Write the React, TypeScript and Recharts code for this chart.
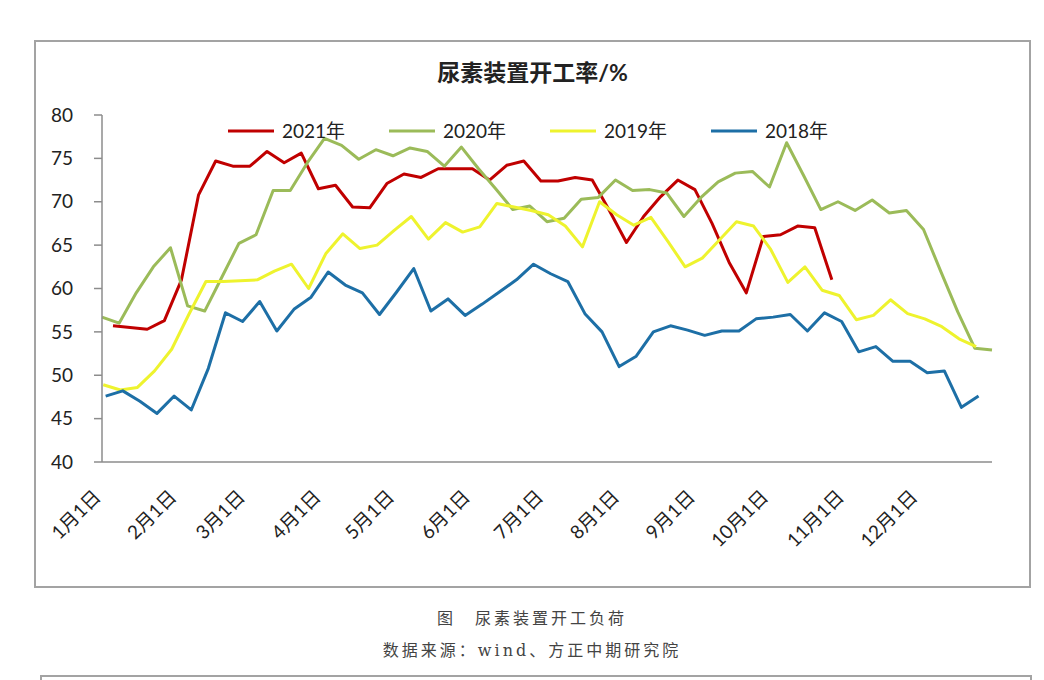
import { Line, LineChart, XAxis, YAxis } from "recharts"

// weekly readings, first reading's day-of-year per year
const startDay2021 = 4.5
const startDay2020 = 0
const startDay2019 = 0.5
const startDay2018 = 1.5

const values2021 = [
    55.7, 55.5, 55.3, 56.3, 61.0, 70.8, 74.7, 74.1, 74.1, 75.8,
    74.5, 75.6, 71.5, 71.9, 69.4, 69.3, 72.1, 73.2, 72.8, 73.8,
    73.8, 73.8, 72.5, 74.2, 74.7, 72.4, 72.4, 72.8, 72.5, 69.0,
    65.3, 68.3, 70.6, 72.5, 71.4, 67.5, 63.0, 59.5, 66.0, 66.2,
    67.2, 67.0, 61.0,
]

const values2020 = [
    56.7, 56.0, 59.5, 62.5, 64.7, 58.0, 57.4, 61.3, 65.2, 66.2,
    71.3, 71.3, 74.5, 77.3, 76.5, 74.9, 76.0, 75.3, 76.2, 75.8,
    74.1, 76.3, 73.8, 71.5, 69.1, 69.5, 67.7, 68.1, 70.3, 70.5,
    72.5, 71.3, 71.4, 71.0, 68.3, 70.5, 72.3, 73.3, 73.5, 71.7,
    76.8, 73.0, 69.1, 70.0, 69.0, 70.2, 68.7, 69.0, 66.8, 62.0,
    57.3, 53.1, 52.9,
]

const values2019 = [
    48.9, 48.3, 48.6, 50.5, 53.0, 57.0, 60.8, 60.8, 60.9, 61.0,
    62.0, 62.8, 60.0, 64.0, 66.3, 64.6, 65.0, 66.7, 68.3, 65.7,
    67.6, 66.5, 67.1, 69.8, 69.4, 69.0, 68.5, 67.2, 64.8, 70.0,
    68.5, 67.3, 68.2, 65.4, 62.5, 63.5, 65.6, 67.7, 67.2, 64.5,
    60.7, 62.5, 59.8, 59.2, 56.4, 56.9, 58.7, 57.1, 56.5, 55.6,
    54.2, 53.3,
]

const values2018 = [
    47.6, 48.2, 47.0, 45.6, 47.6, 46.0, 50.8, 57.2, 56.2, 58.5,
    55.1, 57.6, 59.0, 61.9, 60.4, 59.5, 57.0, 59.6, 62.3, 57.4,
    58.8, 56.9, 58.2, 59.6, 61.0, 62.8, 61.7, 60.8, 57.1, 55.0,
    51.0, 52.2, 55.0, 55.7, 55.2, 54.6, 55.1, 55.1, 56.5, 56.7,
    57.0, 55.1, 57.2, 56.2, 52.7, 53.3, 51.6, 51.6, 50.3, 50.5,
    46.3, 47.6,
]

const monthDays = [0, 31, 59, 90, 120, 151, 181, 212, 243, 273, 304, 334]
const monthLabels = ["1月1日", "2月1日", "3月1日", "4月1日", "5月1日", "6月1日", "7月1日", "8月1日", "9月1日", "10月1日", "11月1日", "12月1日"]
const yTicks = [40, 45, 50, 55, 60, 65, 70, 75, 80]

const seriesNames = ["2021年", "2020年", "2019年", "2018年"]
const seriesColors = ["#C00000", "#9BBB59", "#EEF32E", "#1D6FA6"]

const toPoints = (values: number[], start: number) =>
    values.map((value, i) => ({ day: start + i * 7, value }))

const series = [
    toPoints(values2021, startDay2021),
    toPoints(values2020, startDay2020),
    toPoints(values2019, startDay2019),
    toPoints(values2018, startDay2018),
]

const FONT = "Lato, 'Noto Sans CJK SC', sans-serif"
const CAPTION_FONT = "'DejaVu Serif', 'Noto Sans CJK SC', serif"

const MonthTick = (props: any) => {
    const { x, y, payload } = props
    const label = monthLabels[monthDays.indexOf(payload.value)]
    const ay = y + 36
    return (
        <text
            x={x}
            y={ay}
            transform={`rotate(-45 ${x} ${ay})`}
            textAnchor="end"
            fontSize={19}
            fontFamily={FONT}
            fill="#222"
        >
            {label}
        </text>
    )
}

// legend drawn outside the chart so it doesn't eat plot height
const LegendBox = () => (
    <div style={{ position: "absolute", left: 228, top: 119, display: "flex", fontFamily: FONT }}>
        {seriesNames.map((name, i) => (
            <div key={name} style={{ width: 161, display: "flex", alignItems: "center" }}>
                <svg width={46} height={6}>
                    <line x1={0} y1={3} x2={46} y2={3} stroke={seriesColors[i]} strokeWidth={3} />
                </svg>
                <span style={{ marginLeft: 8, fontSize: 19, color: "#222", lineHeight: "24px" }}>{name}</span>
            </div>
        ))}
    </div>
)

export default function App() {
    return (
        <div style={{ position: "absolute", left: 0, top: 0, width: 1044, height: 680, overflow: "hidden", background: "#fff" }}>
            <div style={{ position: "absolute", left: 34, top: 40, width: 993, height: 544, border: "2px solid #a3a3a3" }} />

            <div
                style={{
                    position: "absolute", left: 0, top: 58, width: 1065, textAlign: "center",
                    fontFamily: FONT, fontWeight: 700, fontSize: 23, lineHeight: "28px", color: "#222",
                }}
            >
                尿素装置开工率/%
            </div>

            <div style={{ position: "absolute", left: 0, top: 0 }}>
                <LineChart width={1044} height={600} margin={{ top: 115, right: 52, left: 0, bottom: 38 }}>
                    <XAxis
                        type="number"
                        dataKey="day"
                        domain={[0, 364]}
                        ticks={monthDays}
                        interval={0}
                        tick={<MonthTick />}
                        tickLine={false}
                        tickSize={0}
                        tickMargin={0}
                        height={100}
                        stroke="#8c8c8c"
                        strokeWidth={1.5}
                        allowDuplicatedCategory={false}
                    />
                    <YAxis
                        type="number"
                        domain={[40, 80]}
                        ticks={yTicks}
                        interval={0}
                        width={102}
                        tickSize={8}
                        tickMargin={21}
                        stroke="#8c8c8c"
                        strokeWidth={1.5}
                        tick={{ fontSize: 19, fill: "#222", fontFamily: FONT }}
                    />
                    {series.map((points, i) => (
                        <Line
                            key={seriesNames[i]}
                            data={points}
                            dataKey="value"
                            name={seriesNames[i]}
                            type="linear"
                            stroke={seriesColors[i]}
                            strokeWidth={3}
                            strokeLinejoin="round"
                            dot={false}
                            activeDot={false}
                            isAnimationActive={false}
                        />
                    ))}
                </LineChart>
            </div>

            <LegendBox />

            <div
                style={{
                    position: "absolute", left: 0, top: 609, width: 1064, textAlign: "center",
                    fontFamily: CAPTION_FONT, fontSize: 16, letterSpacing: 3, lineHeight: "20px", color: "#444",
                }}
            >
                图　尿素装置开工负荷
            </div>
            <div
                style={{
                    position: "absolute", left: 0, top: 641, width: 1064, textAlign: "center",
                    fontFamily: CAPTION_FONT, fontSize: 16, letterSpacing: 3, lineHeight: "20px", color: "#444",
                }}
            >
                数据来源：wind、方正中期研究院
            </div>

            <div style={{ position: "absolute", left: 40, top: 675, width: 988, height: 60, border: "2px solid #a3a3a3" }} />
        </div>
    )
}
